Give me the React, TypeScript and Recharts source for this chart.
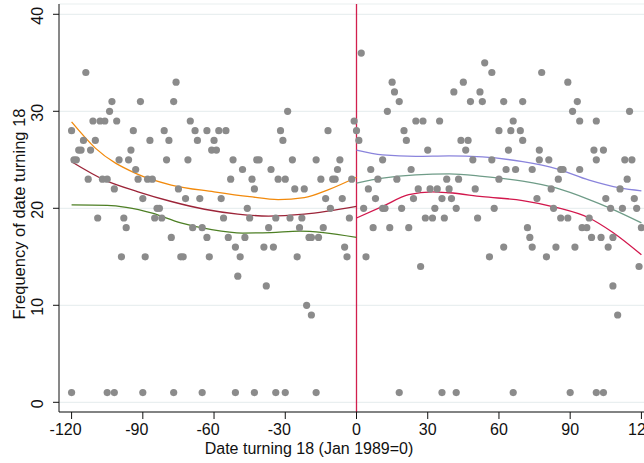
import React from 'react';
import { ComposedChart, Scatter, Line, XAxis, YAxis, CartesianGrid, ReferenceLine } from 'recharts';

// months relative to Jan 1989, grouped by the number of people turning 18 that month
const countsBefore: [number, number[]][] = [
  [34, [-114]],
  [33, [-76]],
  [31, [-103, -91, -77]],
  [30, [-104, -29]],
  [29, [-111, -108, -106, -101, -70, -1]],
  [28, [-120, -94, -81, -68, -63, -58, -55, -32, -12, 0]],
  [27, [-115, -110, -87, -79, -67, -60, -31]],
  [26, [-117, -116, -112, -95, -61, -59]],
  [25, [-119, -118, -100, -96, -80, -71, -52, -42, -41, -27, -17, -7]],
  [24, [-93, -48, -36, -8]],
  [23, [-113, -107, -105, -92, -88, -86, -53, -44, -33, -30, -15, -10, -9, -2]],
  [22, [-102, -75, -43, -26, -22]],
  [21, [-90, -72, -66, -57, -13, -6]],
  [20, [-84, -83, -46, -11]],
  [19, [-109, -98, -85, -82, -56, -45, -34, -28, -23, -3]],
  [18, [-97, -69, -65, -37, -24, -14]],
  [17, [-78, -63, -54, -47, -20, -19, -16]],
  [16, [-51, -39, -35, -5]],
  [15, [-99, -89, -74, -73, -62, -49, -25, -4]],
  [13, [-50]],
  [12, [-38]],
  [10, [-21]],
  [9, [-19]],
  [1, [-120, -105, -102, -90, -77, -65, -51, -43, -34, -30, -17]],
];

const countsAfter: [number, number[]][] = [
  [36, [2]],
  [35, [54]],
  [34, [57, 78]],
  [33, [15, 45, 89]],
  [32, [16, 41, 52]],
  [31, [18, 48, 53, 62, 70, 93]],
  [30, [13, 91, 115]],
  [29, [25, 28, 35, 66, 94, 101]],
  [28, [20, 60, 65, 69]],
  [27, [1, 21, 44, 47, 70]],
  [26, [30, 46, 64, 77, 100, 104]],
  [25, [11, 49, 57, 77, 81, 101, 113, 116]],
  [24, [6, 23, 63, 67, 74, 86, 87, 94]],
  [23, [9, 17, 38, 43, 60, 85, 114]],
  [22, [5, 26, 31, 34, 39, 50, 82, 111]],
  [21, [8, 24, 36, 40, 76, 105, 117]],
  [20, [3, 11, 12, 19, 33, 42, 58, 83, 107, 112, 118]],
  [19, [29, 32, 37, 51, 86, 89, 98]],
  [18, [7, 14, 22, 72, 95, 97, 120]],
  [17, [73, 99, 103, 108]],
  [16, [62, 74, 84, 92, 106]],
  [15, [4, 56, 80]],
  [14, [27, 119]],
  [12, [108]],
  [9, [110]],
  [1, [18, 36, 42, 66, 90, 101, 104]],
];

// fitted curves, left of the cutoff
const fitOrange: [number, number][] = [
  [-120, 28.9], [-110, 26.2], [-93, 23.6], [-78, 22.4], [-60, 21.7], [-45, 21.2], [-33, 20.9], [-22, 21.1], [-12, 21.9], [0, 23.2],
];
const fitMaroon: [number, number][] = [
  [-120, 24.8], [-106, 22.9], [-92, 21.7], [-78, 20.7], [-64, 19.9], [-50, 19.4], [-37, 19.2], [-22, 19.4], [0, 20.2],
];
const fitGreen: [number, number][] = [
  [-120, 20.35], [-105, 20.3], [-97, 20.1], [-86, 19.5], [-74, 18.5], [-61, 17.8], [-48, 17.45], [-36, 17.5], [-24, 17.65], [-14, 17.5], [0, 17.0],
];

// fitted curves, right of the cutoff
const fitPurple: [number, number][] = [
  [0, 26.0], [11, 25.5], [25, 25.35], [39, 25.4], [53, 25.3], [70, 24.8], [84, 24.1], [98, 22.9], [111, 22.1], [120, 21.8],
];
const fitSage: [number, number][] = [
  [0, 22.6], [11, 23.1], [25, 23.45], [39, 23.55], [53, 23.3], [70, 22.8], [84, 22.1], [98, 20.9], [106, 20.1], [120, 18.5],
];
const fitCrimson: [number, number][] = [
  [0, 19.0], [11, 20.2], [22, 21.4], [32, 21.7], [39, 21.6], [53, 21.2], [70, 20.8], [84, 20.1], [98, 19.0], [108, 17.5], [120, 15.2],
];

const xTicks = [-120, -90, -60, -30, 0, 30, 60, 90, 120];
const yTicks = [0, 10, 20, 30, 40];

const toPoints = (groups: [number, number[]][]) =>
  groups.flatMap(([count, months]) => months.map((m) => ({ x: m, y: count })));
const toLine = (pts: [number, number][]) => pts.map(([x, y]) => ({ x, y }));

const scatterData = [...toPoints(countsBefore), ...toPoints(countsAfter)];

const FONT = '"Liberation Sans", Arial, sans-serif';

const Dot = (props: any) => <circle cx={props.cx} cy={props.cy} r={3.6} fill="#8b8b8b" />;

const XTick = ({ x, y, payload }: any) => (
  <text x={x + (payload.value < 0 ? -6 : 0)} y={y + 16} textAnchor="middle" fontSize={16} fontFamily={FONT} fill="#111">
    {payload.value}
  </text>
);

const YTick = ({ x, y, payload }: any) => (
  <text transform={`translate(${x - 10},${y}) rotate(-90)`} dx={-1.5} textAnchor="middle" fontSize={16} fontFamily={FONT} fill="#111">
    {payload.value}
  </text>
);

const fits = [
  { data: fitOrange, color: '#f28a0c' },
  { data: fitMaroon, color: '#9c2438' },
  { data: fitGreen, color: '#4d7f24' },
  { data: fitPurple, color: '#8a84dc' },
  { data: fitSage, color: '#6f9c88' },
  { data: fitCrimson, color: '#d2174c' },
];

export default function App() {
  return (
    <div style={{ position: 'absolute', left: 0, top: 0, width: 644, height: 463, overflow: 'hidden', background: '#fff' }}>
      <ComposedChart width={664} height={463} margin={{ top: 4, right: 10, bottom: 0, left: 0 }}>
        <CartesianGrid vertical={false} stroke="#e9eff0" strokeWidth={1.2} />
        <XAxis
          type="number"
          dataKey="x"
          domain={[-125.3, 125.3]}
          ticks={xTicks}
          allowDataOverflow
          height={51}
          tickSize={7}
          tickMargin={0}
          stroke="#111"
          tick={<XTick />}
          label={{
            content: () => (
              <text x={309} y={453.5} textAnchor="middle" fontSize={16} fontFamily={FONT} fill="#111">
                Date turning 18 (Jan 1989=0)
              </text>
            ),
          }}
        />
        <YAxis
          type="number"
          dataKey="y"
          domain={[-1, 41.06]}
          ticks={yTicks}
          allowDataOverflow
          width={59}
          tickSize={6}
          tickMargin={0}
          stroke="#111"
          tick={<YTick />}
          label={{
            content: () => (
              <text transform="translate(25,214) rotate(-90)" textAnchor="middle" fontSize={16.5} fontFamily={FONT} fill="#111">
                Frequency of date turning 18
              </text>
            ),
          }}
        />
        <ReferenceLine x={0} stroke="#d21f4d" strokeWidth={1.3} />
        <Scatter data={scatterData} dataKey="y" shape={<Dot />} isAnimationActive={false} />
        {fits.map((f, i) => (
          <Line
            key={i}
            data={toLine(f.data)}
            dataKey="y"
            type="monotone"
            stroke={f.color}
            strokeWidth={1.3}
            dot={false}
            activeDot={false}
            isAnimationActive={false}
          />
        ))}
      </ComposedChart>
    </div>
  );
}
